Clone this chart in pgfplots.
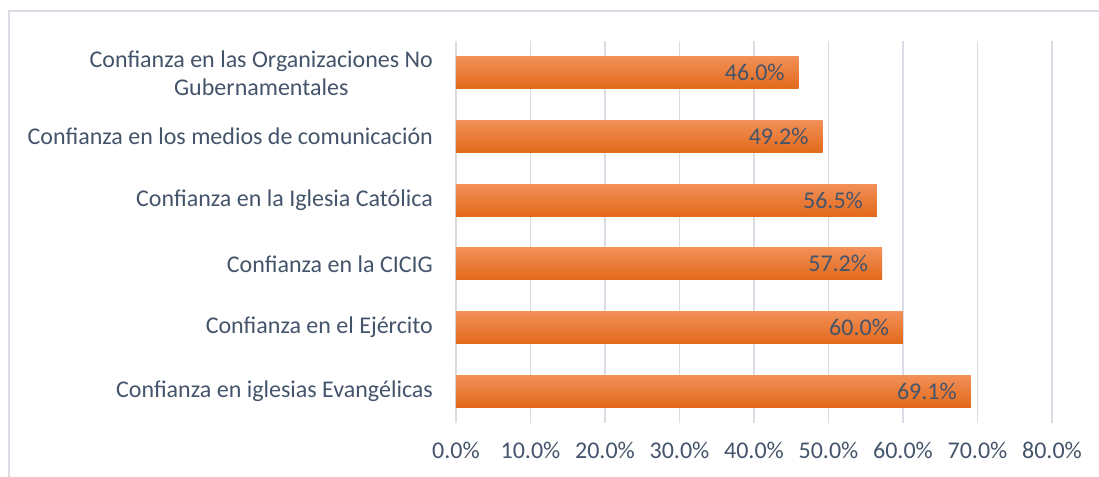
\documentclass[border=0pt]{standalone}
\usepackage{pgfplots}
\pgfplotsset{compat=1.18}
\usepackage{fontspec}
\setmainfont{Carlito}
\definecolor{txt}{HTML}{44546A}
\definecolor{gridc}{HTML}{D9DCE2}
\definecolor{otop}{HTML}{F29058}
\definecolor{omid}{HTML}{F47D2C}
\definecolor{obot}{HTML}{E2691A}
\begin{document}
\begin{tikzpicture}
\useasboundingbox (-228pt,-27pt) rectangle (321.5pt,211.5pt);
\draw[gridc, line width=0.8pt] (-223.5pt,-27pt) -- (-223.5pt,206pt) -- (321.5pt,206pt);
\begin{axis}[
  at={(0,0)}, anchor=south west,
  scale only axis, width=298pt, height=191pt,
  xmin=0, xmax=80, ymin=-0.5, ymax=5.5,
  xbar, bar width=16pt, bar shift=0pt,
  axis line style={draw=none},
  tick style={draw=none}, major tick length=0pt,
  xtick={0,10,...,80},
  xticklabels={0.0\%,10.0\%,20.0\%,30.0\%,40.0\%,50.0\%,60.0\%,70.0\%,80.0\%},
  ytick={0,...,5},
  yticklabels={Confianza en iglesias Evangélicas,Confianza en el Ejército,Confianza en la CICIG,Confianza en la Iglesia Católica,Confianza en los medios de comunicación,{Confianza en las Organizaciones No\\Gubernamentales}},
  xmajorgrids, grid style={gridc, line width=0.9pt},
  ticklabel style={font=\fontsize{12}{14}\selectfont, text=txt},
  yticklabel style={align=center, xshift=-8pt},
  xticklabel style={yshift=-6pt},
  /pgf/number format/assume math mode=true,
  nodes near coords={\pgfmathprintnumber[fixed,fixed zerofill,precision=1]{\pgfplotspointmeta}\%},
  every node near coord/.append style={anchor=east, xshift=-3.5pt, font=\fontsize{12}{14}\selectfont, text=txt},
  bstyle/.style={draw=none, top color=otop, middle color=omid, bottom color=obot},
]
\addplot[bstyle] coordinates {(69.1,0)};
\addplot[bstyle] coordinates {(60.0,1)};
\addplot[bstyle] coordinates {(57.2,2)};
\addplot[bstyle] coordinates {(56.5,3)};
\addplot[bstyle] coordinates {(49.2,4)};
\addplot[bstyle] coordinates {(46.0,5)};
\end{axis}
\end{tikzpicture}
\end{document}
